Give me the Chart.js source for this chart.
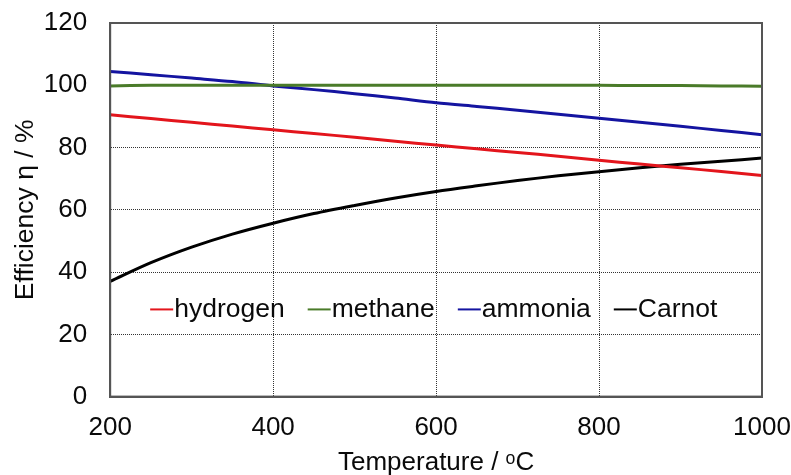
<!DOCTYPE html>
<html>
<head>
<meta charset="utf-8">
<script src="https://cdn.jsdelivr.net/npm/chart.js@4/dist/chart.umd.min.js"></script>
<style>
  html, body { margin: 0; padding: 0; background: #fff; }
  #wrap { width: 791px; height: 475px; }
</style>
</head>
<body>
<div id="wrap"><canvas id="eff" width="791" height="475"></canvas></div>
<script>
// temperature in degC, efficiencies in %
const temps = [200, 250, 300, 350, 400, 450, 500, 550, 600, 650, 700, 750, 800, 850, 900, 950, 1000];
const hydrogen = [90.5, 89.3, 88.1, 86.9, 85.7, 84.5, 83.3, 82.0, 80.8, 79.6, 78.4, 77.2, 75.9, 74.7, 73.5, 72.3, 71.0];
const methane = [99.8, 100.0, 100.0, 100.0, 100.0, 100.0, 100.0, 100.0, 100.0, 100.0, 100.0, 100.0, 100.0, 99.9, 99.9, 99.8, 99.7];
const ammonia = [104.4, 103.4, 102.3, 101.2, 99.8, 98.6, 97.3, 95.9, 94.4, 93.2, 92.0, 90.7, 89.4, 88.1, 86.8, 85.5, 84.1];
const carnot = [37.0, 43.0, 48.0, 52.2, 55.7, 58.8, 61.4, 63.8, 65.9, 67.7, 69.4, 70.9, 72.2, 73.5, 74.6, 75.6, 76.6];
const xTicks = [200, 400, 600, 800, 1000];
const yTicks = [0, 20, 40, 60, 80, 100, 120];

const FONT = '"Liberation Sans", Arial, sans-serif';
const TXT = '#0a0a0a';

function pts(vals) {
  return temps.map((t, i) => ({ x: t, y: vals[i] }));
}

function series(label, vals, color) {
  return {
    label: label,
    data: pts(vals),
    borderColor: color,
    backgroundColor: color,
    borderWidth: 3,
    pointRadius: 0,
    tension: 0.3,
    fill: false
  };
}

// box around the plot area (chart.js only draws left/bottom)
const frame = {
  id: 'frame',
  afterDatasetsDraw(chart) {
    const a = chart.chartArea, ctx = chart.ctx;
    ctx.save();
    ctx.strokeStyle = '#555';
    ctx.lineWidth = 2;
    ctx.strokeRect(a.left, a.top, a.right - a.left, a.bottom - a.top);
    ctx.restore();
  }
};

// legend sitting inside the plot, one row
const innerLegend = {
  id: 'innerLegend',
  afterDraw(chart) {
    const ctx = chart.ctx;
    const y = chart.scales.y.getPixelForValue(28);
    let x = chart.chartArea.left + 40;
    ctx.save();
    ctx.font = '26.5px ' + FONT;
    ctx.textBaseline = 'middle';
    chart.data.datasets.forEach(ds => {
      ctx.strokeStyle = ds.borderColor;
      ctx.lineWidth = 2;
      ctx.beginPath();
      ctx.moveTo(x, y);
      ctx.lineTo(x + 23, y);
      ctx.stroke();
      x += 24;
      ctx.fillStyle = TXT;
      ctx.fillText(ds.label, x, y);
      x += ctx.measureText(ds.label).width + 23;
    });
    ctx.restore();
  }
};

new Chart(document.getElementById('eff'), {
  type: 'line',
  data: {
    datasets: [
      series('hydrogen', hydrogen, '#e3151c'),
      series('methane', methane, '#4a7b29'),
      series('ammonia', ammonia, '#1414a0'),
      series('Carnot', carnot, '#000000')
    ]
  },
  options: {
    responsive: false,
    animation: false,
    layout: { padding: { top: 23, right: 29, left: 10, bottom: 0 } },
    plugins: {
      legend: { display: false },
      tooltip: { enabled: false }
    },
    scales: {
      x: {
        type: 'linear',
        min: 200,
        max: 1000,
        afterBuildTicks: s => { s.ticks = xTicks.map(v => ({ value: v })); },
        // end labels may hang over the edges, layout padding handles it
        afterFit: s => { s.paddingLeft = 0; s.paddingRight = 0; },
        ticks: {
          font: { family: FONT, size: 26 }, color: TXT, padding: 16,
          callback: v => String(v)
        },
        grid: { color: '#333', lineWidth: 1, drawTicks: false },
        border: { display: true, color: '#555', width: 2, dash: [1, 1] },
        title: {
          display: true,
          text: 'Temperature / \u1d52C',
          font: { family: FONT, size: 26 },
          color: TXT,
          padding: { top: -13, bottom: -3 }
        }
      },
      y: {
        min: 0,
        max: 120,
        afterBuildTicks: s => { s.ticks = yTicks.map(v => ({ value: v })); },
        afterFit: s => { s.paddingTop = 0; s.paddingBottom = 0; },
        ticks: {
          font: { family: FONT, size: 26 }, color: TXT, padding: 23,
          callback: v => String(v)
        },
        grid: { color: '#333', lineWidth: 1, drawTicks: false },
        border: { display: true, color: '#555', width: 2, dash: [1, 1] },
        title: {
          display: true,
          text: 'Efficiency \u03b7 / %',
          font: { family: FONT, size: 26.5 },
          color: TXT,
          padding: { top: 0, bottom: -21 }
        }
      }
    }
  },
  plugins: [frame, innerLegend]
});
</script>
</body>
</html>
